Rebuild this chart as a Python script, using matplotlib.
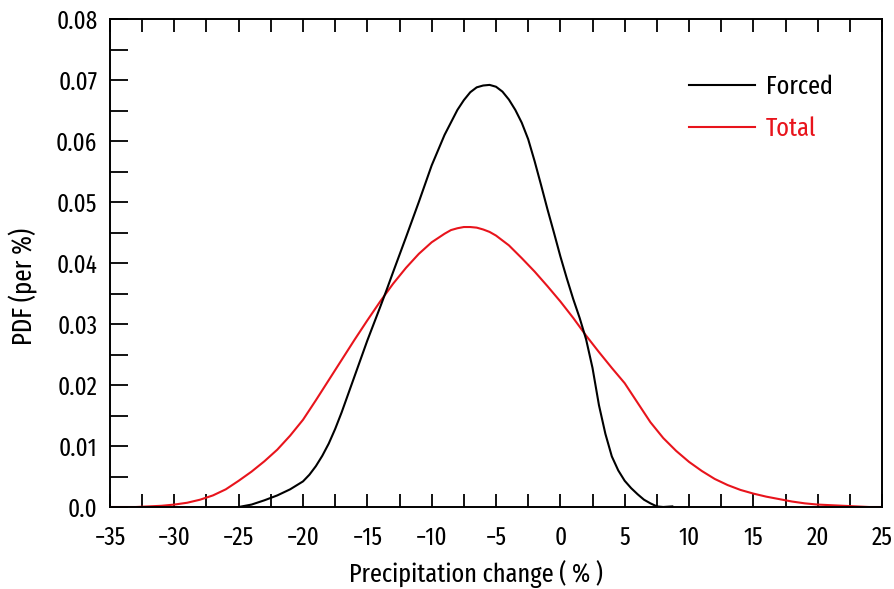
import matplotlib
matplotlib.use("Agg")
import matplotlib.pyplot as plt
from matplotlib.ticker import MultipleLocator, FuncFormatter

plt.rcParams['font.family'] = ['Fira Sans Extra Condensed', 'Fira Sans Condensed', 'DejaVu Sans']

# Forced (black) PDF
forced_x = [-25, -24, -23, -22, -21, -20, -19.5, -19, -18.5, -18, -17.5, -17, -16, -15, -14,
            -13.5, -13, -12, -11,
            -10, -9, -8, -7.5, -7, -6.5, -6, -5.5, -5, -4.5, -4, -3.5, -3, -2.5, -2, -1.5,
            -1, -0.5, 0, 0.5, 1, 1.5, 2, 2.5, 3, 3.5, 4, 4.5, 5,
            5.5, 6, 6.5, 7, 7.5, 8, 8.7]
forced_y = [0.0, 0.0004, 0.0011, 0.0019, 0.0029, 0.0042, 0.0053, 0.0067, 0.0084, 0.0104,
            0.0128, 0.0155, 0.0214, 0.0273, 0.0328, 0.0356, 0.0385, 0.0442, 0.0500,
            0.0560, 0.0610, 0.0651, 0.0667, 0.0680,
            0.0688, 0.0691, 0.0692, 0.0689, 0.0681, 0.0668, 0.0651, 0.0630, 0.0603, 0.0567,
            0.0528, 0.0488, 0.0450, 0.0411, 0.0375, 0.0341, 0.0310, 0.0275, 0.0228, 0.0167,
            0.0120, 0.0083, 0.0060, 0.0043, 0.0031, 0.0021, 0.0012, 0.0006, 0.0001, 0.0, 0.0001]

# Total (red) PDF
total_x = [-35, -34, -33, -32, -31, -30, -29, -28, -27, -26, -25, -24, -23, -22, -21, -20,
           -19, -18, -17, -16, -15, -14, -13, -12, -11, -10, -9, -8.5, -8, -7.5, -7, -6.5,
           -6, -5.5, -5, -4, -3, -2, -1, 0, 1, 2, 3, 4, 5, 6, 7, 8, 9, 10, 11, 12, 13, 14,
           15, 16, 17, 18, 19, 20, 21, 22, 23, 24, 25]
total_y = [0.0, 0.0, 0.0, 0.0001, 0.0002, 0.0004, 0.0007, 0.0012, 0.0019, 0.0029, 0.0043,
           0.0058, 0.0075, 0.0094, 0.0117, 0.0143, 0.0175, 0.0208, 0.0241, 0.0274, 0.0306,
           0.0337, 0.0366, 0.0392, 0.0415, 0.0434, 0.0448, 0.0454, 0.0457, 0.0459, 0.0459,
           0.0458, 0.0455, 0.0451, 0.0445, 0.0429, 0.0408, 0.0386, 0.0362, 0.0337, 0.0310,
           0.0281, 0.0254, 0.0228, 0.0203, 0.0171, 0.0139, 0.0113, 0.0092, 0.0074, 0.0059,
           0.0046, 0.0036, 0.0028, 0.0022, 0.0017, 0.0013, 0.0009, 0.0006, 0.0004, 0.0003,
           0.0002, 0.0001, 0.0, 0.0]

fig = plt.figure(figsize=(8.95, 5.89), dpi=100)
ax = fig.add_axes([0.1229, 0.1392, 0.8626, 0.8285])

ax.plot(forced_x, forced_y, color='black', lw=1.5, label='Forced', zorder=3)
ax.plot(total_x, total_y, color='#e8141c', lw=1.5, label='Total', zorder=2)

ax.set_xlim(-35, 25)
ax.set_ylim(0, 0.08)

ax.xaxis.set_major_locator(MultipleLocator(5))
ax.xaxis.set_minor_locator(MultipleLocator(2.5))
ax.yaxis.set_major_locator(MultipleLocator(0.01))
ax.yaxis.set_minor_locator(MultipleLocator(0.005))
ax.yaxis.set_major_formatter(FuncFormatter(lambda v, p: '0.0' if abs(v) < 1e-9 else f'{v:.2f}'))
ax.xaxis.set_major_formatter(FuncFormatter(lambda v, p: f'{int(round(v))}'.replace('-', '\u2212')))

ax.tick_params(axis='x', which='both', direction='in', length=9.5, width=1.3,
               top=True, bottom=True, labelsize=18, pad=13)
ax.tick_params(axis='y', which='both', direction='in', length=13, width=1.3,
               left=True, right=False, labelsize=18, pad=9)
for s in ax.spines.values():
    s.set_linewidth(1.4)

ax.set_xlabel('Precipitation change ( % )', fontsize=19)
ax.set_ylabel('PDF (per %)', fontsize=19.5)
ax.xaxis.set_label_coords(0.474, -0.108)
ax.yaxis.set_label_coords(-0.1127, 0.453)
ax.yaxis.label.set_va('center')

leg = ax.legend(loc='upper left', bbox_to_anchor=(0.75, 0.887), frameon=False,
                fontsize=19, handlelength=2.5, handletextpad=0.42, labelspacing=0.65,
                borderpad=0, borderaxespad=0, labelcolor='linecolor')

fig.savefig('out.png', dpi=100)
